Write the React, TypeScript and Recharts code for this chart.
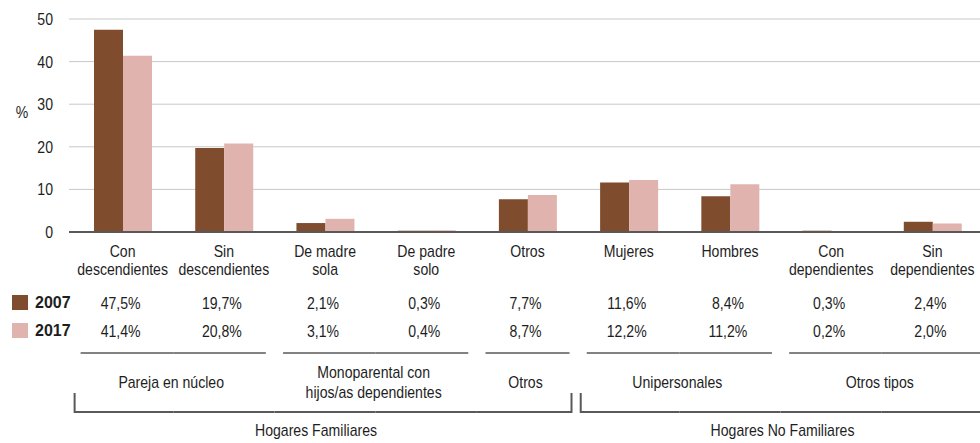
import { BarChart, Bar, XAxis, YAxis, CartesianGrid } from "recharts";

const categoryLine1 = ["Con", "Sin", "De madre", "De padre", "Otros", "Mujeres", "Hombres", "Con", "Sin"];
const categoryLine2 = ["descendientes", "descendientes", "sola", "solo", "", "", "", "dependientes", "dependientes"];
const values2007 = [47.5, 19.7, 2.1, 0.3, 7.7, 11.6, 8.4, 0.3, 2.4];
const values2017 = [41.4, 20.8, 3.1, 0.4, 8.7, 12.2, 11.2, 0.2, 2.0];
const yTicks = [0, 10, 20, 30, 40, 50];

const subGroupLabels = [
  ["Pareja en núcleo"],
  ["Monoparental con", "hijos/as dependientes"],
  ["Otros"],
  ["Unipersonales"],
  ["Otros tipos"],
];
const subGroupOf = [0, 0, 1, 1, 2, 3, 3, 4, 4];
const mainGroupLabels = ["Hogares Familiares", "Hogares No Familiares"];
const mainGroupOf = [0, 0, 0, 0, 0, 1, 1, 1, 1];

const COLOR_2007 = "#7f4c2e";
const COLOR_2017 = "#e0b3ae";
const LINE = "#595959";
const TEXT = "#1e1e1e";
const FONT = "'Liberation Sans', Arial, sans-serif";
const SQUEEZE = 0.88; // the original uses a narrow face
const BAND = 101.2; // category width at this chart size
const HALF = BAND / 2;

const data = categoryLine1.map((l1, i) => ({
  name: (l1 + " " + categoryLine2[i]).trim(),
  v2007: values2007[i],
  v2017: values2017[i],
}));

const fmt = (v: number) => v.toFixed(1).replace(".", ",") + "%";

function groupInfo(groupOf: number[], i: number) {
  const g = groupOf[i];
  const first = i === 0 || groupOf[i - 1] !== g;
  const last = i === groupOf.length - 1 || groupOf[i + 1] !== g;
  const size = groupOf.filter((x) => x === g).length;
  return { g, first, last, size };
}

function NText({ x, y, anchor = "middle", children }: { x: number; y: number; anchor?: "middle" | "end" | "start"; children: any }) {
  return (
    <text
      transform={`translate(${x} ${y}) scale(${SQUEEZE} 1)`}
      x={0}
      y={0}
      fontFamily={FONT}
      fontSize={16}
      fill={TEXT}
      textAnchor={anchor}
    >
      {children}
    </text>
  );
}

function TableTick(props: any) {
  const { x, y, index } = props;
  const i = index as number;
  const sub = groupInfo(subGroupOf, i);
  const main = groupInfo(mainGroupOf, i);
  const atEnd = i === mainGroupOf.length - 1;

  const subLeft = sub.first ? x - 42 : x - HALF;
  const subRight = sub.last && !atEnd ? x + 42 : x + HALF;
  const subCenter = x + ((sub.size - 1) * BAND) / 2 - 2;
  const subLines = subGroupLabels[sub.g];

  const mainLeft = main.first ? x - 48 : x - HALF;
  const mainRight = main.last && !atEnd ? x + 44 : x + HALF;
  const mainCenter = x + ((main.size - 1) * BAND) / 2 + (main.g === 0 ? -9 : 2);

  return (
    <g>
      <NText x={x} y={y + 25}>{categoryLine1[i]}</NText>
      <NText x={x} y={y + 43}>{categoryLine2[i]}</NText>
      <NText x={x - 2} y={y + 77}>{fmt(values2007[i])}</NText>
      <NText x={x - 2} y={y + 105}>{fmt(values2017[i])}</NText>
      <line x1={subLeft} x2={subRight} y1={y + 121} y2={y + 121} stroke={LINE} strokeWidth={1.5} />
      {sub.first &&
        (subLines.length === 1 ? (
          <NText x={subCenter} y={y + 156}>{subLines[0]}</NText>
        ) : (
          <>
            <NText x={subCenter} y={y + 146}>{subLines[0]}</NText>
            <NText x={subCenter} y={y + 166}>{subLines[1]}</NText>
          </>
        ))}
      <line x1={mainLeft} x2={mainRight} y1={y + 180} y2={y + 180} stroke={LINE} strokeWidth={2} />
      {main.first && <line x1={mainLeft} x2={mainLeft} y1={y + 161} y2={y + 181} stroke={LINE} strokeWidth={2} />}
      {main.last && !atEnd && <line x1={mainRight} x2={mainRight} y1={y + 161} y2={y + 181} stroke={LINE} strokeWidth={2} />}
      {main.first && <NText x={mainCenter} y={y + 204}>{mainGroupLabels[main.g]}</NText>}
    </g>
  );
}

function YTick(props: any) {
  const { x, y, payload } = props;
  return (
    <NText x={x} y={y + 6} anchor="end">
      {payload.value}
    </NText>
  );
}

function PercentLabel(props: any) {
  const { viewBox } = props;
  return (
    <NText x={viewBox.x + 22} y={viewBox.y + 99}>
      %
    </NText>
  );
}

const legendItems = [
  { label: "2007", color: COLOR_2007 },
  { label: "2017", color: COLOR_2017 },
];

export default function App() {
  return (
    <div style={{ position: "absolute", left: 0, top: 0, width: 980, height: 443, overflow: "hidden", background: "#fff" }}>
      <BarChart
        width={984}
        height={443}
        data={data}
        margin={{ top: 19, right: 1, bottom: 0, left: 0 }}
        barGap={0}
      >
        <CartesianGrid horizontal vertical={false} stroke="#c8c8c8" />
        <YAxis
          domain={[0, 50]}
          ticks={yTicks}
          width={69}
          axisLine={false}
          tickLine={false}
          tickSize={0}
          tickMargin={16}
          tick={<YTick />}
          label={<PercentLabel />}
        />
        <XAxis
          dataKey="name"
          height={211}
          padding={{ left: 3, right: 0 }}
          interval={0}
          axisLine={{ stroke: LINE, strokeWidth: 2 }}
          tickLine={false}
          tickSize={0}
          tickMargin={0}
          tick={<TableTick />}
        />
        <Bar dataKey="v2007" name="2007" fill={COLOR_2007} barSize={29} isAnimationActive={false} />
        <Bar dataKey="v2017" name="2017" fill={COLOR_2017} barSize={29} isAnimationActive={false} />
      </BarChart>
      {legendItems.map((item, k) => (
        <div
          key={item.label}
          style={{ position: "absolute", left: 12, top: 295 + k * 28, display: "flex", alignItems: "center", fontFamily: FONT }}
        >
          <div style={{ width: 16, height: 15, background: item.color }} />
          <span style={{ marginLeft: 7, fontSize: 16, fontWeight: "bold", color: TEXT, lineHeight: "15px" }}>{item.label}</span>
        </div>
      ))}
    </div>
  );
}
